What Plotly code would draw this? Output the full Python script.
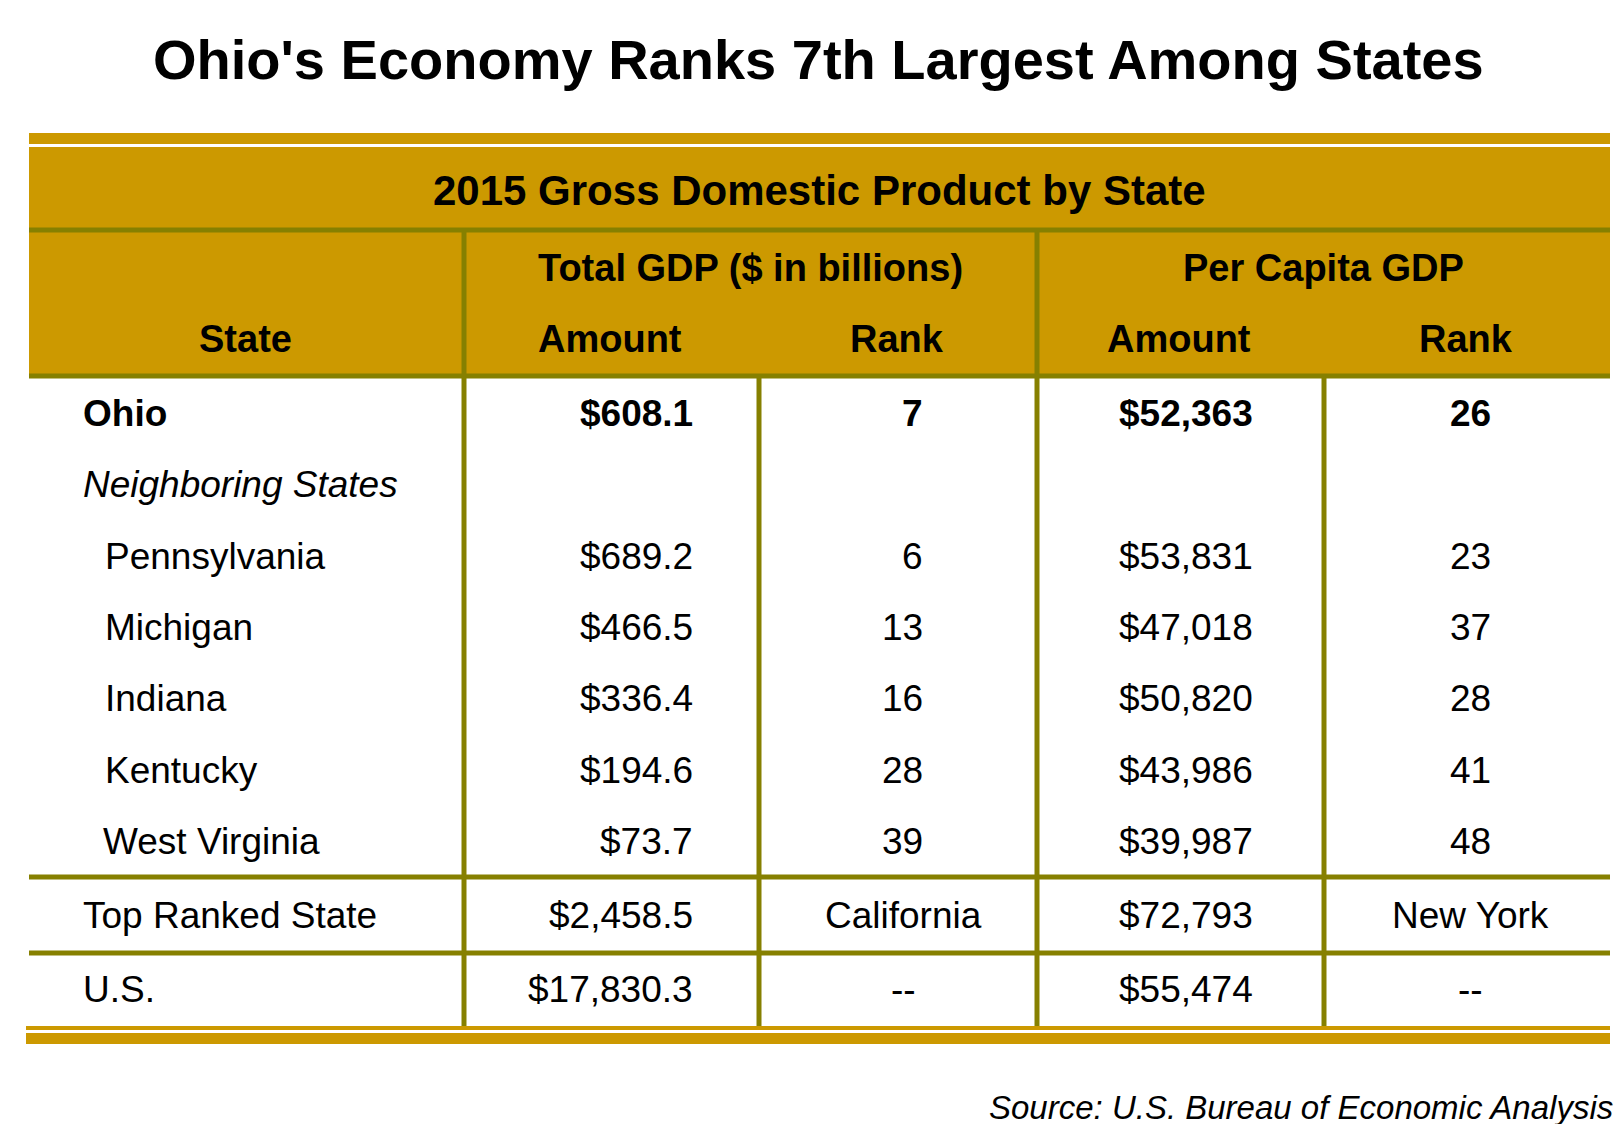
import plotly.graph_objects as go

# Table data
states = ["Ohio", "Neighboring States", "Pennsylvania", "Michigan", "Indiana",
          "Kentucky", "West Virginia", "Top Ranked State", "U.S."]
total_gdp = [608.1, None, 689.2, 466.5, 336.4, 194.6, 73.7, 2458.5, 17830.3]
total_rank = [7, None, 6, 13, 16, 28, 39, "California", "--"]
per_capita = [52363, None, 53831, 47018, 50820, 43986, 39987, 72793, 55474]
per_capita_rank = [26, None, 23, 37, 28, 41, 48, "New York", "--"]

title = "Ohio's Economy Ranks 7th Largest Among States"
table_title = "2015 Gross Domestic Product by State"
group_headers = ["Total GDP ($ in billions)", "Per Capita GDP"]
col_headers = ["State", "Amount", "Rank", "Amount", "Rank"]
source = "Source: U.S. Bureau of Economic Analysis"

GOLD = "#CC9900"
OLIVE = "#868000"
FONT = "Liberation Sans, Arial, sans-serif"
W, H = 1624, 1124

# layout positions (pixels)
row_y = [405, 476, 548, 619, 690, 762, 833, 907, 981]
left, right = 21, 1602
vx = [456, 751, 1029, 1316]

fig = go.Figure()
fig.add_trace(go.Scatter(x=[0], y=[0], mode="markers", marker=dict(opacity=0),
                         hoverinfo="skip", showlegend=False))

shapes = []
def rect(x0, y0, x1, y1, color):
    shapes.append(dict(type="rect", xref="x", yref="y", x0=x0, x1=x1, y0=y0, y1=y1,
                       fillcolor=color, line=dict(width=0), layer="below"))

def line(x0, y0, x1, y1, color=OLIVE, w=5):
    shapes.append(dict(type="line", xref="x", yref="y", x0=x0, x1=x1, y0=y0, y1=y1,
                       line=dict(color=color, width=w)))

# gold bands
rect(left, 125, right, 136, GOLD)
rect(left, 139, right, 368, GOLD)
rect(18, 1025, right, 1036, GOLD)
line(18, 1020, right, 1020, GOLD, 4)

# grid lines
line(left, 222, right, 222)
line(left, 368, right, 368)
line(left, 869, right, 869)
line(left, 945, right, 945)
line(vx[0], 222, vx[0], 1018)
line(vx[2], 222, vx[2], 1018)
line(vx[1], 368, vx[1], 1018)
line(vx[3], 368, vx[3], 1018)

ann = []
def text(x, y, s, size=37, bold=False, italic=False, anchor="left"):
    ann.append(dict(x=x, y=y, xref="x", yref="y", text=s, showarrow=False,
                    xanchor=anchor, yanchor="middle",
                    font=dict(family=FONT, size=size, color="black",
                              weight="bold" if bold else "normal",
                              style="italic" if italic else "normal")))

text(810, 51, title, size=56, bold=True, anchor="center")
text(811, 182, table_title, size=42, bold=True, anchor="center")
text(742, 260, group_headers[0], size=38, bold=True, anchor="center")
text(1315, 260, group_headers[1], size=38, bold=True, anchor="center")
for cx, h in zip([237, 602, 889, 1171, 1458], col_headers):
    text(cx, 331, h, size=38, bold=True, anchor="center")

indent = {"Ohio": 73, "Neighboring States": 73, "Top Ranked State": 73, "U.S.": 73,
          "West Virginia": 93}
for i, st in enumerate(states):
    y = row_y[i]
    b = i == 0
    text(indent.get(st, 95), y, st, bold=b, italic=(st == "Neighboring States"))
    if total_gdp[i] is not None:
        text(687, y, "${:,.1f}".format(total_gdp[i]), bold=b, anchor="right")
    r = total_rank[i]
    if isinstance(r, int):
        text(917, y, str(r), bold=b, anchor="right")
    elif r is not None:
        text(895, y, r, bold=b, anchor="center")
    if per_capita[i] is not None:
        text(1247, y, "${:,}".format(per_capita[i]), bold=b, anchor="right")
    r = per_capita_rank[i]
    if r is not None:
        text(1462, y, str(r), bold=b, anchor="center")

text(1607, 1099, source, size=33, italic=True, anchor="right")

fig.update_layout(
    width=W, height=H,
    margin=dict(l=0, r=0, t=0, b=0),
    paper_bgcolor="white", plot_bgcolor="white",
    xaxis=dict(range=[0, W], visible=False, fixedrange=True),
    yaxis=dict(range=[H, 0], visible=False, fixedrange=True),
    shapes=shapes, annotations=ann,
)

fig.write_html("out.html")
